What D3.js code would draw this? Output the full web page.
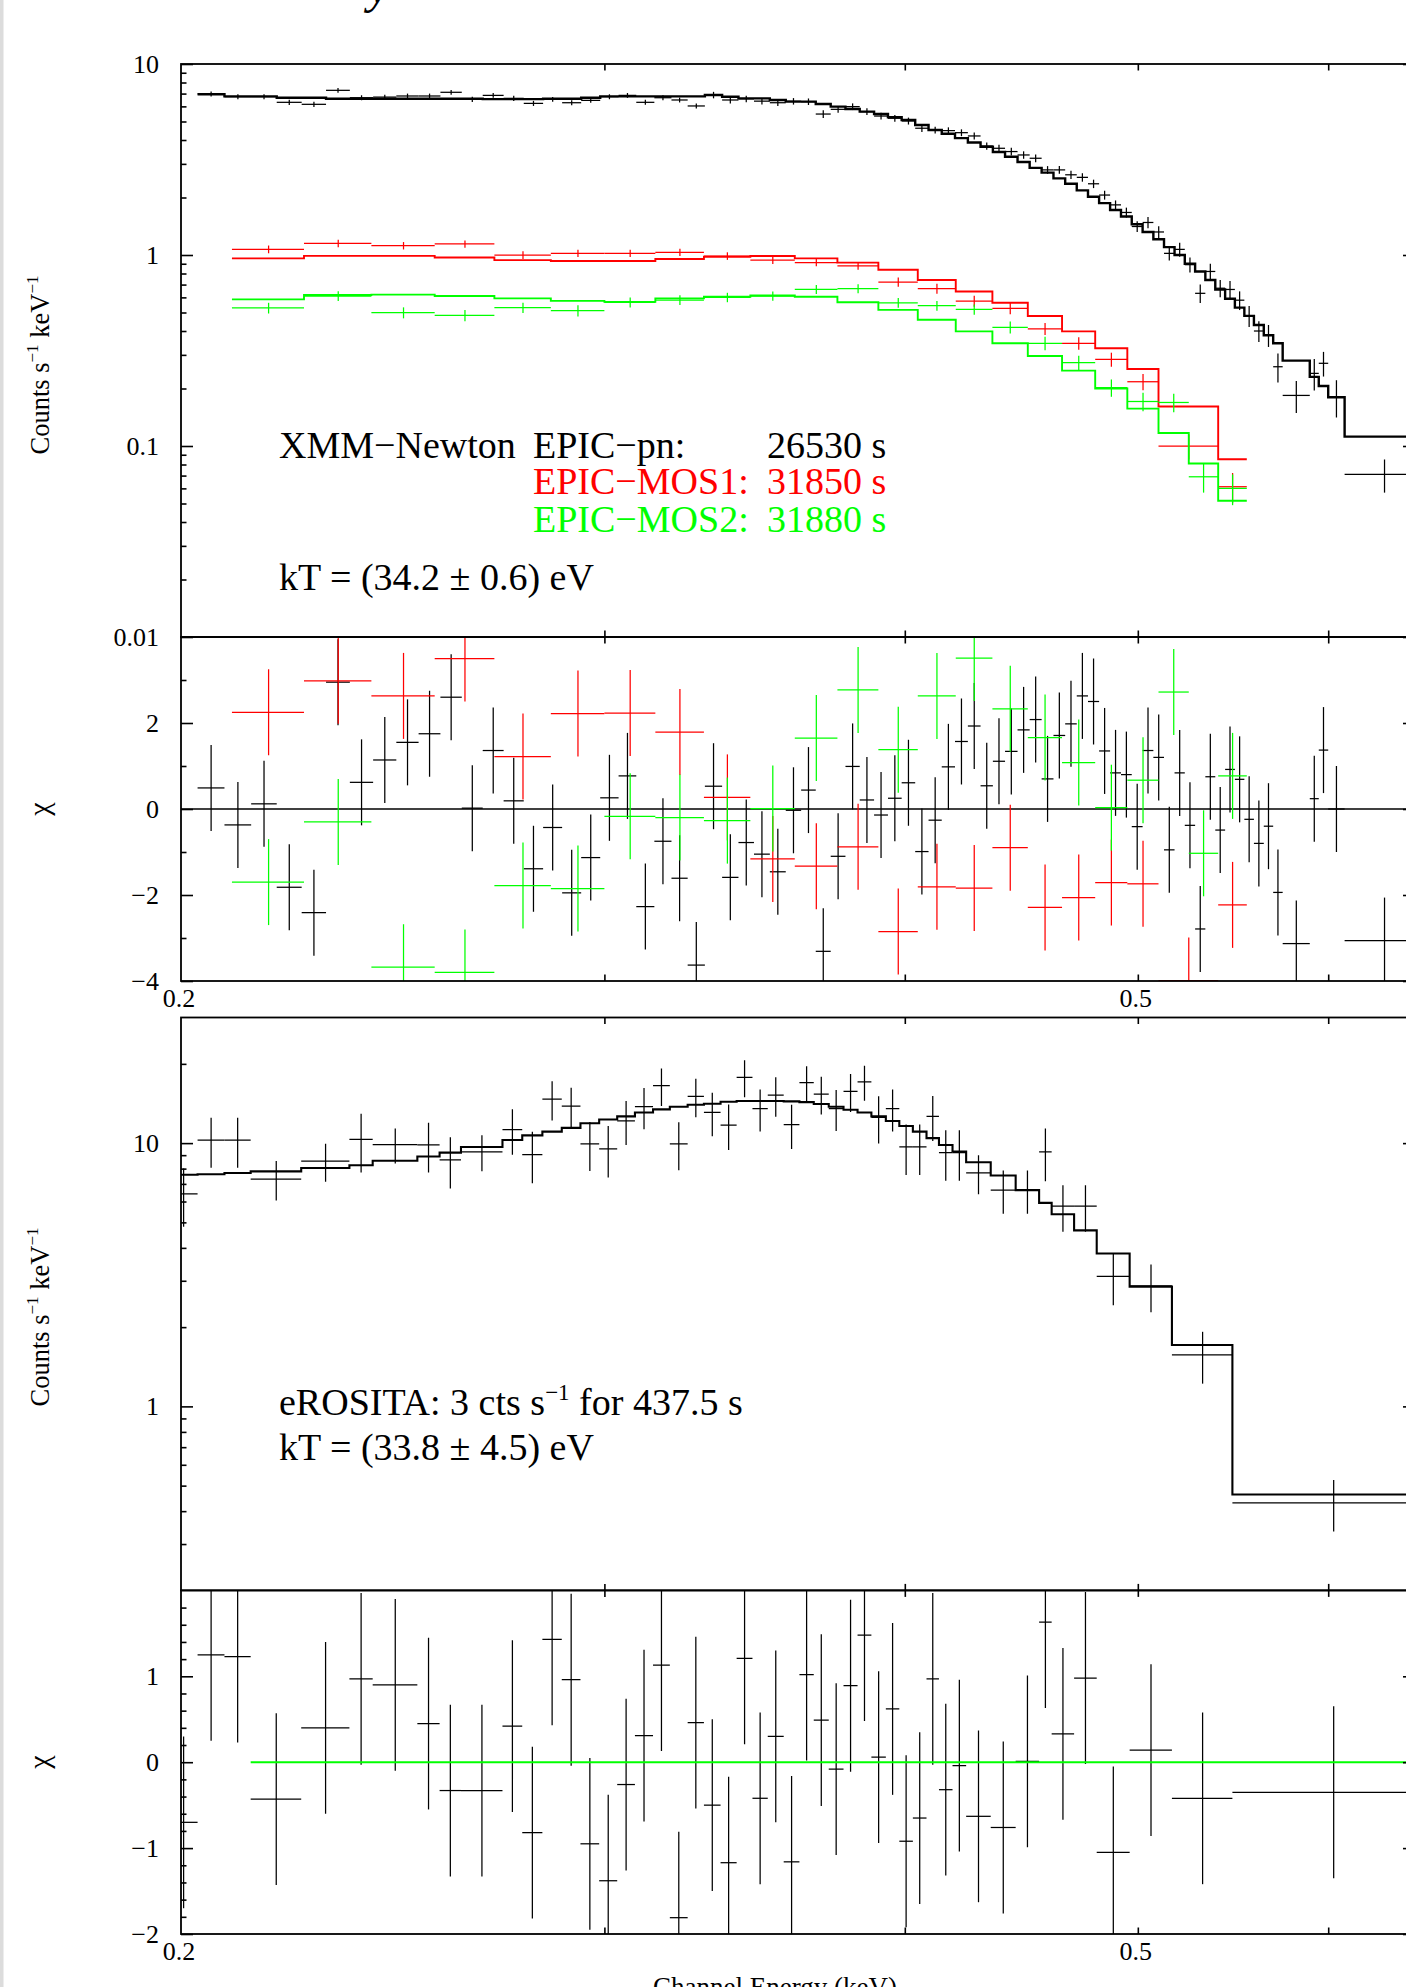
<!DOCTYPE html>
<html>
<head>
<meta charset="utf-8">
<script src="https://cdn.jsdelivr.net/npm/d3@7"></script>
<style>
  body { margin: 0; background: #fff; }
  svg text { font-family: "Liberation Serif", "Times New Roman", serif; }
</style>
</head>
<body>
<div id="spectra"></div>
<script>
// ---- axis ticks ----
var xMajorTicks = [0.3, 0.4, 0.5, 0.6];
var xTickLabels = ["0.2", "0.5"];
var xTickLabelValues = [0.2, 0.5];

var spec1Major = [0.01, 0.1, 1, 10];
var spec1Labels = ["0.01", "0.1", "1", "10"];
var spec1Minor = [0.02, 0.03, 0.04, 0.05, 0.06, 0.07, 0.08, 0.09, 0.2, 0.3, 0.4, 0.5, 0.6, 0.7, 0.8, 0.9, 2, 3, 4, 5, 6, 7, 8, 9];
var res1Major = [-4, -2, 0, 2];
var res1Labels = ["\u22124", "\u22122", "0", "2"];
var res1Minor = [-3, -1, 1, 3];
var spec2Major = [1, 10];
var spec2Labels = ["1", "10"];
var spec2Minor = [0.3, 0.4, 0.5, 0.6, 0.7, 0.8, 0.9, 2, 3, 4, 5, 6, 7, 8, 9, 20];
var res2Major = [-2, -1, 0, 1];
var res2Labels = ["\u22122", "\u22121", "0", "1"];
var res2Minor = [-1.8, -1.6, -1.4, -1.2, -0.8, -0.6, -0.4, -0.2, 0.2, 0.4, 0.6, 0.8, 1.2, 1.4, 1.6, 1.8];

// ---- XMM EPIC-pn (bin edges keV, counts/s/keV, 1 sigma, model, chi) ----
var pnEdges = [0.2032, 0.2085, 0.2139, 0.2192, 0.2245, 0.2298, 0.2351, 0.2404, 0.2458, 0.2511,
  0.2564, 0.2617, 0.2670, 0.2724, 0.2777, 0.2829, 0.2881, 0.2934, 0.2988, 0.3041,
  0.3093, 0.3147, 0.3199, 0.3249, 0.3303, 0.3358, 0.3411, 0.3462, 0.3515, 0.3569,
  0.3622, 0.3673, 0.3726, 0.3779, 0.3831, 0.3884, 0.3936, 0.3988, 0.4040, 0.4092,
  0.4144, 0.4197, 0.4249, 0.4301, 0.4352, 0.4403, 0.4456, 0.4508, 0.4560, 0.4612,
  0.4664, 0.4716, 0.4767, 0.4818, 0.4869, 0.4920, 0.4971, 0.5023, 0.5075, 0.5127,
  0.5179, 0.5230, 0.5282, 0.5334, 0.5385, 0.5436, 0.5487, 0.5537, 0.5588, 0.5641,
  0.5692, 0.5744, 0.5895, 0.5946, 0.6000, 0.6095, 0.6570];
var pnRate = [6.97, 6.74, 6.74, 6.30, 6.15, 7.28, 6.66, 6.71, 6.80, 6.80, 7.11, 6.53, 6.85, 6.61, 6.22, 6.53,
  6.27, 6.45, 6.74, 6.85, 6.30, 6.66, 6.48, 6.03,
  6.88, 6.48, 6.57, 6.39, 6.27, 6.38, 6.35, 5.47, 5.79, 5.98, 5.63, 5.34, 5.20, 5.03, 4.61, 4.51,
  4.48, 4.37, 4.20, 3.72, 3.62, 3.48, 3.34, 3.21, 2.79, 2.79, 2.63, 2.55, 2.36, 2.06, 1.83, 1.67,
  1.41, 1.48, 1.32, 1.02, 1.07, 0.89, 0.63, 0.82, 0.67, 0.66, 0.58, 0.48, 0.40, 0.38,
  0.260, 0.184, 0.240, 0.271, 0.181, 0.071];
var pnErr = [0.21, 0.21, 0.20, 0.20, 0.20, 0.21, 0.20, 0.20, 0.20, 0.20, 0.21, 0.20, 0.20, 0.20, 0.19, 0.19,
  0.19, 0.19, 0.20, 0.20, 0.19, 0.20, 0.19, 0.19,
  0.27, 0.26, 0.26, 0.25, 0.25, 0.25, 0.25, 0.25, 0.24, 0.24, 0.23, 0.22, 0.21, 0.21, 0.20, 0.19,
  0.18, 0.18, 0.18, 0.16, 0.16, 0.16, 0.15, 0.15,
  0.13, 0.13, 0.13, 0.13, 0.12, 0.11, 0.10, 0.10, 0.09, 0.10, 0.095, 0.085, 0.09, 0.08, 0.07, 0.08,
  0.07, 0.07, 0.065, 0.06, 0.05, 0.05,
  0.045, 0.035, 0.045, 0.04, 0.04, 0.014];
var pnModel = [6.94, 6.77, 6.77, 6.66, 6.66, 6.58, 6.58, 6.58, 6.58, 6.58, 6.58, 6.58, 6.55, 6.55, 6.55, 6.58,
  6.58, 6.66, 6.77, 6.77, 6.77, 6.77, 6.77, 6.77,
  6.88, 6.74, 6.61, 6.61, 6.48, 6.35, 6.35, 6.17, 5.98, 5.81, 5.63, 5.47, 5.26, 5.09, 4.79, 4.51,
  4.31, 4.09, 3.88, 3.69, 3.46, 3.27, 3.07, 2.86, 2.70, 2.52, 2.36, 2.18, 2.02, 1.87, 1.72, 1.59,
  1.45, 1.32, 1.21, 1.10, 1.00, 0.90, 0.82, 0.74, 0.66, 0.59, 0.53, 0.48, 0.43, 0.38,
  0.345, 0.28, 0.23, 0.206, 0.18, 0.112];
var pnChi = [0.49, -0.37, 0.12, -1.82, -2.41, 2.95, 0.62, 1.14, 1.55, 1.75, 2.60, 0.02, 1.36, 0.19, -1.39, -0.43,
  -1.95, -1.13, 0.26, 0.77, -2.27, -0.75, -1.61, -3.63,
  0.53, -1.59, -0.78, -1.05, -1.46, -0.03, 0.44, -3.31, -1.10, 0.99, 0.21, -0.14, 0.25, 0.61, -0.99, -0.26,
  0.98, 1.57, 1.93, 0.54, 1.11, 1.34, 1.84, 2.08, 0.70, 1.71, 1.98, 2.63, 2.50, 1.35, 0.84, 0.80,
  -0.41, 1.36, 1.20, -0.95, 0.84, -0.38, -2.79, 0.75, -0.49, 0.92, 0.69, -0.24, -0.80, -0.40,
  -1.94, -3.13, 0.24, 1.37, 0.00, -3.06];

// ---- XMM EPIC-MOS1 ----
var mos1Edges = [0.210, 0.225, 0.240, 0.255, 0.270, 0.285, 0.300, 0.315, 0.330, 0.345, 0.360, 0.375,
  0.390, 0.405, 0.420, 0.435, 0.450, 0.465, 0.480, 0.495, 0.510, 0.540, 0.555];
var mos1Rate = [1.071, 1.151, 1.119, 1.142, 1.00, 1.02, 1.02, 1.033, 0.988, 0.941, 0.912, 0.876,
  0.722, 0.667, 0.574, 0.526, 0.411, 0.345, 0.284, 0.217, 0.100, 0.0612];
var mos1Err = [0.050, 0.052, 0.050, 0.050, 0.047, 0.045, 0.045, 0.045, 0.045, 0.044, 0.040, 0.040,
  0.040, 0.040, 0.038, 0.036, 0.030, 0.026, 0.024, 0.021, 0.015, 0.011];
var mos1Model = [0.96, 0.99, 0.99, 0.97, 0.94, 0.93, 0.93, 0.953, 0.98, 0.988, 0.96, 0.912,
  0.837, 0.74, 0.644, 0.562, 0.479, 0.398, 0.325, 0.253, 0.161, 0.0852];
var mos1Chi = [2.25, 2.98, 2.63, 3.50, 1.22, 2.22, 2.23, 1.79, 0.27, -1.16, -1.33, -0.88,
  -2.85, -1.81, -1.84, -0.90, -2.29, -2.06, -1.71, -1.74, -3.99, -2.23];

// ---- XMM EPIC-MOS2 ----
var mos2Edges = [0.210, 0.225, 0.240, 0.255, 0.270, 0.285, 0.300, 0.315, 0.330, 0.345, 0.360, 0.375,
  0.390, 0.405, 0.420, 0.435, 0.450, 0.465, 0.480, 0.495, 0.510, 0.525, 0.540, 0.555];
var mos2Rate = [0.528, 0.610, 0.499, 0.483, 0.530, 0.511, 0.565, 0.581, 0.600, 0.610, 0.661, 0.667,
  0.562, 0.543, 0.519, 0.418, 0.345, 0.273, 0.202, 0.171, 0.169, 0.069, 0.060];
var mos2Err = [0.034, 0.036, 0.033, 0.033, 0.033, 0.034, 0.034, 0.034, 0.034, 0.034, 0.036, 0.036,
  0.033, 0.032, 0.032, 0.030, 0.028, 0.024, 0.021, 0.019, 0.019, 0.012, 0.011];
var mos2Model = [0.586, 0.617, 0.62, 0.61, 0.593, 0.575, 0.568, 0.593, 0.604, 0.614, 0.604, 0.566,
  0.516, 0.458, 0.398, 0.345, 0.296, 0.248, 0.200, 0.157, 0.117, 0.081, 0.0517];
var mos2Chi = [-1.70, -0.30, -3.68, -3.80, -1.78, -1.85, -0.17, -0.20, -0.27, 0.01, 1.65, 2.77,
  1.38, 2.63, 3.51, 2.33, 1.66, 1.08, 0.03, 0.67, 2.72, -1.03, 0.77];

// ---- eROSITA ----
var eroEdges = [0.1978, 0.2032, 0.2085, 0.2138, 0.2244, 0.2350, 0.2403, 0.2508, 0.2562, 0.2615,
  0.2721, 0.2773, 0.2827, 0.2880, 0.2932, 0.2985, 0.3037, 0.3089, 0.3143, 0.3194,
  0.3249, 0.3300, 0.3353, 0.3405, 0.3457, 0.3508, 0.3562, 0.3616, 0.3666, 0.3719,
  0.3772, 0.3823, 0.3874, 0.3928, 0.3979, 0.4031, 0.4084, 0.4133, 0.4187, 0.4242,
  0.4343, 0.4448, 0.4549, 0.4604, 0.4704, 0.4807, 0.4961, 0.5166, 0.5474, 0.6589];
var eroRate = [6.41, 10.27, 10.27, 7.30, 8.54, 10.34, 9.87, 9.84, 8.63, 9.26, 11.24, 9.04, 14.69, 13.83,
  9.94, 9.51, 12.14, 13.75, 16.52, 9.94, 15.04,
  13.07, 11.71, 17.78, 13.52, 15.20, 11.75, 16.97, 15.35, 13.52, 15.72, 17.09, 12.52, 13.52, 9.67,
  9.67, 12.64, 9.20, 9.20, 7.70, 6.63, 6.63, 9.26, 5.76, 5.76, 3.12, 2.87, 1.57, 0.430];
var eroErr = [1.6, 2.2, 2.2, 1.25, 1.4, 2.6, 1.5, 2.1, 1.9, 1.45, 2.2, 2.0, 2.5, 2.4, 2.1, 2.1, 2.3, 2.45,
  2.7, 2.05, 2.5,
  2.45, 2.3, 2.85, 2.45, 2.6, 2.25, 2.6, 2.5, 2.4, 2.6, 2.6, 2.55, 2.45, 2.1, 2.1, 2.45, 2.0, 2.0,
  1.3, 1.24, 1.24, 2.1, 1.15, 1.15, 0.7, 0.59, 0.35, 0.095];
var eroModel = [7.58, 7.62, 7.70, 7.81, 8.04, 8.24, 8.57, 8.89, 9.20, 9.67, 10.27, 10.70, 11.06, 11.43,
  11.90, 12.30, 12.64, 13.07, 13.43, 13.75, 13.98,
  14.11, 14.36, 14.45, 14.45, 14.45, 14.40, 14.31, 14.07, 13.75, 13.38, 13.07, 12.64, 12.14, 11.62,
  11.06, 10.45, 9.84, 9.29, 8.46, 7.53, 6.63, 5.93, 5.37, 4.66, 3.81, 2.85, 1.71, 0.463];
var eroChi = [-0.70, 1.25, 1.23, -0.43, 0.40, 0.97, 0.90, 0.45, -0.33, -0.33, 0.42, -0.82, 1.43, 0.96,
  -0.95, -1.38, -0.26, 0.31, 1.13, -1.81, 0.46,
  -0.50, -1.17, 1.21, -0.42, 0.30, -1.16, 1.02, 0.49, -0.08, 0.89, 1.48, 0.06, 0.62, -0.92,
  -0.65, 0.97, -0.32, -0.04, -0.63, -0.76, 0.01, 1.63, 0.33, 0.98, -1.05, 0.14, -0.42, -0.35];
var eroZeroStart = 0.2138;

var svgWidth = 1406;
var svgHeight = 1987;
var plotLeft = 181;
var plotRight = 1415;

var svg = d3.select("#spectra")
  .append("svg")
  .attr("width", svgWidth)
  .attr("height", svgHeight);

svg.append("rect").attr("width", svgWidth).attr("height", svgHeight).attr("fill", "#fff");
// grey strip at the left edge of the page
svg.append("rect").attr("x", 0).attr("y", 0).attr("width", 3.5).attr("height", svgHeight).attr("fill", "#dcdcdc");

var xScale = d3.scaleLog().domain([0.2, 0.652]).range([plotLeft, plotRight]);

var spec1Y = d3.scaleLog().domain([0.01, 10]).range([637, 64]);
var res1Y = d3.scaleLinear().domain([-4, 4]).range([981, 637]);
var spec2Y = d3.scaleLog().domain([0.2, 30]).range([1590.4, 1017.5]);
var res2Y = d3.scaleLinear().domain([-2, 2]).range([1934, 1590.4]);

function makePanel(id, y) {
  var r = y.range();
  var top = Math.min(r[0], r[1]), bottom = Math.max(r[0], r[1]);
  svg.append("clipPath").attr("id", "clip-" + id)
    .append("rect")
    .attr("x", plotLeft).attr("y", top)
    .attr("width", plotRight - plotLeft).attr("height", bottom - top);
  var g = svg.append("g").attr("clip-path", "url(#clip-" + id + ")");
  return { g: g, y: y, top: top, bottom: bottom };
}

var p1 = makePanel("spec1", spec1Y);
var p2 = makePanel("res1", res1Y);
var p3 = makePanel("spec2", spec2Y);
var p4 = makePanel("res2", res2Y);

// data crosses: horizontal bar across the bin, vertical bar = +-1 sigma
function drawCrosses(p, edges, vals, errs, color, isLog) {
  var bins = vals.map(function(v, i) {
    return { lo: edges[i], hi: edges[i + 1], v: v, e: errs ? errs[i] : 1 };
  });
  var lowVal = function(d) { return isLog ? Math.max(d.v - d.e, 1e-4) : d.v - d.e; };
  var cr = p.g.append("g")
    .attr("stroke", color)
    .attr("stroke-width", 1.25)
    .selectAll(".cross")
    .data(bins)
    .enter()
    .append("g")
    .attr("class", "cross");
  cr.append("line")
    .attr("x1", d => xScale(d.lo))
    .attr("x2", d => xScale(d.hi))
    .attr("y1", d => p.y(d.v))
    .attr("y2", d => p.y(d.v));
  cr.append("line")
    .attr("x1", d => xScale((d.lo + d.hi) / 2))
    .attr("x2", d => xScale((d.lo + d.hi) / 2))
    .attr("y1", d => p.y(lowVal(d)))
    .attr("y2", d => p.y(d.v + d.e));
}

// model as a histogram step line over the same bins
function drawStep(p, edges, model, color, width) {
  var pts = [];
  model.forEach(function(m, i) {
    pts.push([edges[i], m]);
    pts.push([edges[i + 1], m]);
  });
  p.g.append("path")
    .attr("d", d3.line().x(d => xScale(d[0])).y(d => p.y(d[1]))(pts))
    .attr("fill", "none")
    .attr("stroke", color)
    .attr("stroke-width", width);
}

function drawAxes(p, major, labels, minor) {
  var fmt = function(d) { return labels[major.indexOf(d)]; };
  var axes = svg.append("g").attr("class", "axes");
  axes.append("g").attr("transform", `translate(${plotLeft},0)`)
    .call(d3.axisLeft(p.y).tickValues(major).tickFormat(fmt).tickSize(-12).tickPadding(22));
  axes.append("g").attr("transform", `translate(${plotLeft},0)`)
    .call(d3.axisLeft(p.y).tickValues(minor).tickFormat("").tickSize(-5.5));
  axes.append("g").attr("transform", `translate(${plotRight},0)`)
    .call(d3.axisRight(p.y).tickValues(major).tickFormat("").tickSize(-12));
  axes.append("g").attr("transform", `translate(${plotRight},0)`)
    .call(d3.axisRight(p.y).tickValues(minor).tickFormat("").tickSize(-5.5));
  axes.append("g").attr("transform", `translate(0,${p.top})`)
    .call(d3.axisTop(xScale).tickValues(xMajorTicks).tickFormat("").tickSize(-6.5));
  axes.append("g").attr("transform", `translate(0,${p.bottom})`)
    .call(d3.axisBottom(xScale).tickValues(xMajorTicks).tickFormat("").tickSize(-6.5));
  axes.selectAll(".domain").remove();
  axes.selectAll(".tick line").attr("stroke", "#000").attr("stroke-width", 1.6);
  axes.selectAll(".tick text").attr("fill", "#000").style("font-size", "26px");
  axes.append("rect")
    .attr("x", plotLeft).attr("y", p.top)
    .attr("width", plotRight - plotLeft).attr("height", p.bottom - p.top)
    .attr("fill", "none").attr("stroke", "#000").attr("stroke-width", 1.8);
}

// ---- top spectrum: pn, MOS1, MOS2 ----
drawCrosses(p1, pnEdges, pnRate, pnErr, "#000", true);
drawStep(p1, pnEdges, pnModel, "#000", 2.4);
drawCrosses(p1, mos1Edges, mos1Rate, mos1Err, "#ff0000", true);
drawStep(p1, mos1Edges, mos1Model, "#ff0000", 1.9);
drawCrosses(p1, mos2Edges, mos2Rate, mos2Err, "#00ff00", true);
drawStep(p1, mos2Edges, mos2Model, "#00ff00", 1.9);

// ---- top residuals ----
p2.g.append("line")
  .attr("x1", xScale(0.2)).attr("x2", plotRight)
  .attr("y1", res1Y(0)).attr("y2", res1Y(0))
  .attr("stroke", "#000").attr("stroke-width", 1.6);
drawCrosses(p2, pnEdges, pnChi, null, "#000", false);
drawCrosses(p2, mos1Edges, mos1Chi, null, "#ff0000", false);
drawCrosses(p2, mos2Edges, mos2Chi, null, "#00ff00", false);

// ---- eROSITA spectrum ----
drawCrosses(p3, eroEdges, eroRate, eroErr, "#000", true);
drawStep(p3, eroEdges, eroModel, "#000", 2.1);

// ---- eROSITA residuals ----
drawCrosses(p4, eroEdges, eroChi, null, "#000", false);
p4.g.append("line")
  .attr("x1", xScale(eroZeroStart)).attr("x2", plotRight)
  .attr("y1", res2Y(0)).attr("y2", res2Y(0))
  .attr("stroke", "#00ff00").attr("stroke-width", 2);

drawAxes(p1, spec1Major, spec1Labels, spec1Minor);
drawAxes(p2, res1Major, res1Labels, res1Minor);
drawAxes(p3, spec2Major, spec2Labels, spec2Minor);
drawAxes(p4, res2Major, res2Labels, res2Minor);

// x tick labels under each residual panel
[p2, p4].forEach(function(p) {
  svg.append("g").selectAll("text")
    .data(xTickLabelValues)
    .enter()
    .append("text")
    .attr("x", d => xScale(d) - 2)
    .attr("y", p.bottom + 26)
    .attr("text-anchor", "middle")
    .style("font-size", "26px")
    .text((d, i) => xTickLabels[i]);
});

// axis titles
function countsTitle(cy) {
  var t = svg.append("text")
    .attr("transform", `translate(49, ${cy}) rotate(-90)`)
    .attr("text-anchor", "middle")
    .style("font-size", "26.5px");
  t.append("tspan").text("Counts s");
  t.append("tspan").attr("dy", -11).style("font-size", "17px").text("\u22121");
  t.append("tspan").attr("dy", 11).text(" keV");
  t.append("tspan").attr("dy", -11).style("font-size", "17px").text("\u22121");
}
countsTitle(365);
countsTitle(1317);

function chiTitle(cy) {
  svg.append("text")
    .attr("transform", `translate(49, ${cy}) rotate(-90)`)
    .attr("text-anchor", "middle")
    .style("font-size", "30px")
    .text("\u03c7");
}
chiTitle((p2.top + p2.bottom) / 2);
chiTitle((p4.top + p4.bottom) / 2);

svg.append("text")
  .attr("x", 775).attr("y", 1996)
  .attr("text-anchor", "middle")
  .style("font-size", "27px")
  .text("Channel Energy (keV)");

// tail of the page title cut by the top edge
svg.append("text")
  .attr("x", 368).attr("y", 3)
  .style("font-size", "48px")
  .style("font-style", "italic")
  .text("y");

// ---- annotations ----
var big = "38px";
svg.append("text").attr("x", 279).attr("y", 458).style("font-size", big).text("XMM\u2212Newton");
svg.append("text").attr("x", 533).attr("y", 458).style("font-size", big).text("EPIC\u2212pn:");
svg.append("text").attr("x", 767).attr("y", 458).style("font-size", big).text("26530 s");
svg.append("text").attr("x", 533).attr("y", 494).style("font-size", big).attr("fill", "#ff0000").text("EPIC\u2212MOS1:");
svg.append("text").attr("x", 767).attr("y", 494).style("font-size", big).attr("fill", "#ff0000").text("31850 s");
svg.append("text").attr("x", 533).attr("y", 532).style("font-size", big).attr("fill", "#00ff00").text("EPIC\u2212MOS2:");
svg.append("text").attr("x", 767).attr("y", 532).style("font-size", big).attr("fill", "#00ff00").text("31880 s");
svg.append("text").attr("x", 279).attr("y", 590).style("font-size", big).text("kT = (34.2 \u00b1 0.6) eV");

var ero = svg.append("text").attr("x", 279).attr("y", 1415).style("font-size", big);
ero.append("tspan").text("eROSITA: 3 cts s");
ero.append("tspan").attr("dy", -15).style("font-size", "23px").text("\u22121");
ero.append("tspan").attr("dy", 15).text(" for 437.5 s");
svg.append("text").attr("x", 279).attr("y", 1460).style("font-size", big).text("kT = (33.8 \u00b1 4.5) eV");
</script>
</body>
</html>
